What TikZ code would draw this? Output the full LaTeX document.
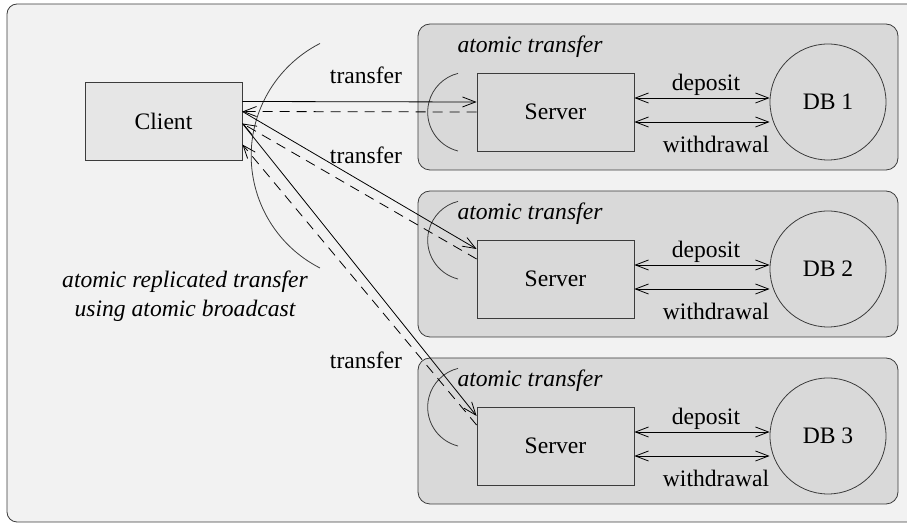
\documentclass[tikz,border=0pt]{standalone}
\usepackage{fontspec}
\setmainfont{Liberation Serif}
\usetikzlibrary{arrows.meta}

\definecolor{pagegray}{RGB}{242,242,242}
\definecolor{groupgray}{RGB}{217,217,217}
\definecolor{clientgray}{RGB}{230,230,230}
\definecolor{linegray}{RGB}{60,60,60}

\tikzset{
  box/.style={draw=linegray, fill=groupgray, minimum width=78.5pt, minimum height=39pt, inner sep=0pt},
  dbnode/.style={circle, draw=linegray, fill=groupgray, minimum size=58pt, inner sep=0pt},
  group/.style={draw=linegray, fill=groupgray, rounded corners=6pt},
  msg/.style={draw=black, -{Straight Barb[length=6.5pt,width=5pt]}},
  reply/.style={msg, dash pattern=on 5pt off 3.5pt},
  both/.style={draw=black, {Straight Barb[length=6.5pt,width=5pt]}-{Straight Barb[length=6.5pt,width=5pt]}},
  label/.style={inner sep=1pt},
}

\begin{document}
\begin{tikzpicture}[x=0.5pt,y=0.5pt,yscale=-1,xscale=1, font=\fontsize{11.8}{14.5}\selectfont]
\useasboundingbox (0,0) rectangle (907,523);

%Shape: outer frame
\draw [draw=linegray, fill=pagegray, rounded corners=5pt] (7,4) rectangle (940,522);

%Shape: group boxes
\draw [group] (418,24) rectangle (898,170);
\draw [group] (418,191) rectangle (898,337);
\draw [group] (418,358) rectangle (898,504);

% Text Node
\node [box, fill=clientgray] (client) at (163.5,121.5) {Client};

% Text Node
\node [box] (srv1) at (555.5,112) {Server};
\node [box] (srv2) at (555.5,279) {Server};
\node [box] (srv3) at (555.5,446) {Server};

% Text Node
\node [dbnode] (db1) at (828,102) {DB 1};
\node [dbnode] (db2) at (828,269) {DB 2};
\node [dbnode] (db3) at (828,436) {DB 3};

% Text Node
\node [font=\fontsize{11.8}{14.5}\itshape] (at1) at (530,47) {atomic transfer};
\node [font=\fontsize{11.8}{14.5}\itshape] (at2) at (530,214) {atomic transfer};
\node [font=\fontsize{11.8}{14.5}\itshape] (at3) at (530,381) {atomic transfer};
\node [font=\fontsize{11.8}{14.5}\itshape, align=center] (arb) at (185,296) {atomic replicated transfer\\using atomic broadcast};

%Shape: Arcs
\draw [linegray] (320,268) arc[start angle=117, end angle=243, radius=126];
\draw [linegray] (458,151) arc[start angle=104, end angle=256, radius=40];
\draw [linegray] (458,279) arc[start angle=104, end angle=256, radius=40];
\draw [linegray] (458,446) arc[start angle=104, end angle=256, radius=40];

%Straight Lines: client to servers (yshift runs downwards here)
\draw [msg] ([yshift=-10pt]client.east) -- ([yshift=-5pt]srv1.west);
\draw [reply] (srv1.west) -- ([yshift=-5pt]client.east);
\draw [msg] ([yshift=-5pt]client.east) -- ([yshift=-15pt]srv2.west);
\draw [reply] ([yshift=-10pt]srv2.west) -- ([yshift=1pt]client.east);
\draw [msg] ([yshift=1pt]client.east) -- ([yshift=-15pt]srv3.west);
\draw [reply] ([yshift=-10.5pt]srv3.west) -- ([yshift=11.5pt]client.east);

% Text Node
\node [label] (t1) at (366,75) {transfer};
\node [label] (t2) at (366,155) {transfer};
\node [label] (t3) at (366,360) {transfer};

%Straight Lines: servers to databases
\draw [both] ([yshift=-7pt]srv1.east) -- ([yshift=-2pt]db1.west) node [midway, yshift=6.5pt, xshift=2pt] {deposit};
\draw [both] ([yshift=5pt]srv1.east) -- ([yshift=10pt]db1.west) node [midway, yshift=-11pt, xshift=7pt] {withdrawal};
\draw [both] ([yshift=-7pt]srv2.east) -- ([yshift=-2pt]db2.west) node [midway, yshift=6.5pt, xshift=2pt] {deposit};
\draw [both] ([yshift=5pt]srv2.east) -- ([yshift=10pt]db2.west) node [midway, yshift=-11pt, xshift=7pt] {withdrawal};
\draw [both] ([yshift=-7pt]srv3.east) -- ([yshift=-2pt]db3.west) node [midway, yshift=6.5pt, xshift=2pt] {deposit};
\draw [both] ([yshift=5pt]srv3.east) -- ([yshift=10pt]db3.west) node [midway, yshift=-11pt, xshift=7pt] {withdrawal};

\end{tikzpicture}
\end{document}
